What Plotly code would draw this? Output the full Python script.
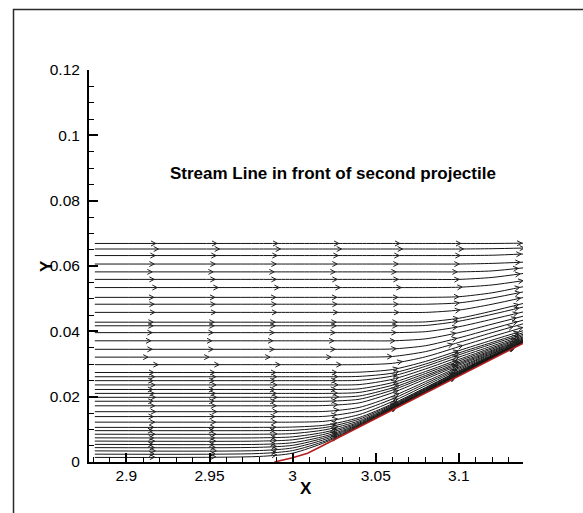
import numpy as np
import plotly.graph_objects as go

# x stations at which every streamline height is tabulated
STATION_X = [2.881, 2.98, 3.00, 3.02, 3.04, 3.06, 3.08, 3.10, 3.12, 3.14]

# streamline heights (Y) at STATION_X, top streamline first
STREAMLINE_Y = [
    [0.0669, 0.0669, 0.0669, 0.0669, 0.0669, 0.0669, 0.0669, 0.0669, 0.0669, 0.0670],
    [0.0652, 0.0652, 0.0652, 0.0652, 0.0652, 0.0652, 0.0652, 0.0652, 0.0653, 0.0655],
    [0.0632, 0.0632, 0.0632, 0.0632, 0.0632, 0.0632, 0.0632, 0.0632, 0.0633, 0.0637],
    [0.0606, 0.0606, 0.0606, 0.0606, 0.0606, 0.0606, 0.0606, 0.0606, 0.0608, 0.0612],
    [0.0582, 0.0582, 0.0582, 0.0582, 0.0582, 0.0582, 0.0582, 0.0582, 0.0585, 0.0595],
    [0.0559, 0.0559, 0.0559, 0.0559, 0.0559, 0.0559, 0.0559, 0.0559, 0.0565, 0.0578],
    [0.0534, 0.0534, 0.0534, 0.0534, 0.0534, 0.0534, 0.0534, 0.0535, 0.0542, 0.0556],
    [0.0504, 0.0504, 0.0504, 0.0504, 0.0504, 0.0504, 0.0504, 0.0506, 0.0518, 0.0538],
    [0.0483, 0.0483, 0.0483, 0.0483, 0.0483, 0.0483, 0.0483, 0.0487, 0.0502, 0.0522],
    [0.0458, 0.0458, 0.0458, 0.0458, 0.0458, 0.0458, 0.0458, 0.0465, 0.0483, 0.0505],
    [0.0428, 0.0428, 0.0428, 0.0428, 0.0428, 0.0428, 0.0429, 0.0440, 0.0462, 0.0487],
    [0.0417, 0.0417, 0.0417, 0.0417, 0.0417, 0.0417, 0.0418, 0.0431, 0.0452, 0.0476],
    [0.0396, 0.0396, 0.0396, 0.0396, 0.0396, 0.0396, 0.0399, 0.0414, 0.0437, 0.0461],
    [0.0371, 0.0371, 0.0371, 0.0371, 0.0371, 0.0371, 0.0377, 0.0396, 0.0422, 0.0448],
    [0.0345, 0.0345, 0.0345, 0.0345, 0.0345, 0.0346, 0.0356, 0.0380, 0.0408, 0.0436],
    [0.0321, 0.0321, 0.0321, 0.0321, 0.0321, 0.0323, 0.0338, 0.0366, 0.0396, 0.0425],
    [0.0298, 0.0298, 0.0298, 0.0298, 0.0298, 0.0302, 0.0322, 0.0353, 0.0384, 0.0414],
    [0.0274, 0.0274, 0.0274, 0.0274, 0.0275, 0.0283, 0.0308, 0.0341, 0.0373, 0.0404],
    [0.0261, 0.0261, 0.0261, 0.0261, 0.0262, 0.0272, 0.0300, 0.0334, 0.0366, 0.0398],
    [0.0249, 0.0249, 0.0249, 0.0249, 0.0250, 0.0263, 0.0293, 0.0328, 0.0361, 0.0393],
    [0.0236, 0.0236, 0.0236, 0.0236, 0.0237, 0.0253, 0.0285, 0.0321, 0.0355, 0.0389],
    [0.0222, 0.0222, 0.0222, 0.0222, 0.0224, 0.0243, 0.0277, 0.0314, 0.0350, 0.0385],
    [0.0210, 0.0210, 0.0210, 0.0210, 0.0213, 0.0235, 0.0271, 0.0309, 0.0346, 0.0382],
    [0.0198, 0.0198, 0.0198, 0.0198, 0.0202, 0.0227, 0.0265, 0.0304, 0.0342, 0.0379],
    [0.0186, 0.0186, 0.0186, 0.0186, 0.0192, 0.0220, 0.0260, 0.0300, 0.0339, 0.0377],
    [0.0172, 0.0172, 0.0172, 0.0173, 0.0181, 0.0212, 0.0254, 0.0296, 0.0336, 0.0375],
    [0.0154, 0.0154, 0.0154, 0.0155, 0.0167, 0.0201, 0.0246, 0.0291, 0.0333, 0.0373],
    [0.0139, 0.0139, 0.0139, 0.0140, 0.0156, 0.0193, 0.0240, 0.0287, 0.0331, 0.0372],
    [0.0122, 0.0122, 0.0122, 0.0125, 0.0145, 0.0185, 0.0234, 0.0283, 0.0328, 0.0371],
    [0.0106, 0.0106, 0.0107, 0.0113, 0.0136, 0.0178, 0.0228, 0.0279, 0.0326, 0.0370],
    [0.0096, 0.0096, 0.0097, 0.0106, 0.0131, 0.0175, 0.0226, 0.0277, 0.0325, 0.0370],
    [0.0085, 0.0085, 0.0087, 0.0099, 0.0126, 0.0172, 0.0224, 0.0275, 0.0324, 0.0369],
    [0.0074, 0.0074, 0.0077, 0.0092, 0.0122, 0.0170, 0.0222, 0.0273, 0.0323, 0.0369],
    [0.0064, 0.0064, 0.0068, 0.0086, 0.0119, 0.0168, 0.0220, 0.0272, 0.0322, 0.0369],
    [0.0054, 0.0054, 0.0059, 0.0080, 0.0116, 0.0166, 0.0218, 0.0270, 0.0321, 0.0368],
    [0.0044, 0.0045, 0.0051, 0.0075, 0.0114, 0.0165, 0.0217, 0.0269, 0.0320, 0.0368],
    [0.0034, 0.0035, 0.0043, 0.0070, 0.0112, 0.0163, 0.0215, 0.0267, 0.0319, 0.0368],
    [0.0024, 0.0026, 0.0035, 0.0065, 0.0110, 0.0162, 0.0214, 0.0266, 0.0318, 0.0368],
    [0.0014, 0.0017, 0.0027, 0.0061, 0.0109, 0.0161, 0.0213, 0.0265, 0.0317, 0.0367],
]

# x of the first arrowhead on each streamline (same order as STREAMLINE_Y)
ARROW_FIRST_X = [
    2.9177, 2.9193, 2.9173, 2.9167, 2.9155, 2.9167, 2.9185, 2.9165, 2.9167, 2.9171,
    2.9161, 2.9161, 2.9155, 2.9147, 2.9155, 2.9130, 2.9191, 2.9165, 2.9170, 2.9160,
    2.9172, 2.9158, 2.9168, 2.9175, 2.9160, 2.9170, 2.9176, 2.9162, 2.9170, 2.9165,
    2.9158, 2.9172, 2.9163, 2.9170, 2.9160, 2.9168, 2.9174, 2.9166, 2.9170,
]
ARROW_SPACING = 0.0367   # arc length between arrowheads, in data units

# projectile nose / cone surface
CONE_X = [2.989, 3.000, 3.009, 3.015, 3.14]
CONE_Y = [0.0, 0.0013, 0.0027, 0.0042, 0.0367]

X_RANGE = [2.8775, 3.1386]
Y_RANGE = [0.0, 0.12]

W, H = 583, 513
ML, MR, MT, MB = 89, 60, 70, 51
PW, PH = W - ML - MR, H - MT - MB
SX = PW / (X_RANGE[1] - X_RANGE[0])   # px per x unit
SY = PH / (Y_RANGE[1] - Y_RANGE[0])   # px per y unit

FONT = "Liberation Sans, Arial, sans-serif"

fig = go.Figure()

# streamlines
for row in STREAMLINE_Y:
    fig.add_trace(go.Scatter(
        x=STATION_X, y=row, mode="lines",
        line=dict(color="#151515", width=1, shape="spline", smoothing=0.7),
        hoverinfo="skip", showlegend=False))

# arrowheads placed along each streamline at equal arc-length steps
ax, ay = [], []
for row, x_first in zip(STREAMLINE_Y, ARROW_FIRST_X):
    px = np.array(STATION_X)
    py = np.array(row)
    seg = np.hypot(np.diff(px), np.diff(py))
    s_cum = np.concatenate([[0.0], np.cumsum(seg)])
    s = x_first - px[0]
    while s < s_cum[-1] - 1e-4:
        i = min(np.searchsorted(s_cum, s, side="right") - 1, len(seg) - 1)
        t = (s - s_cum[i]) / seg[i]
        xt = px[i] + t * (px[i + 1] - px[i])
        yt = py[i] + t * (py[i + 1] - py[i])
        # direction in screen pixels
        dx = (px[i + 1] - px[i]) * SX
        dy = (py[i + 1] - py[i]) * SY
        n = np.hypot(dx, dy)
        ux, uy = dx / n, dy / n
        vx, vy = -uy, ux
        L, Wd = 4.8, 2.5
        for sgn in (1, -1):
            bx = -L * ux + sgn * Wd * vx
            by = -L * uy + sgn * Wd * vy
            ax += [xt + bx / SX, xt, None]
            ay += [yt + by / SY, yt, None]
        s += ARROW_SPACING

fig.add_trace(go.Scatter(
    x=ax, y=ay, mode="lines",
    line=dict(color="#202020", width=1),
    hoverinfo="skip", showlegend=False))

# cone surface
fig.add_trace(go.Scatter(
    x=CONE_X, y=CONE_Y, mode="lines",
    line=dict(color="#b01e1e", width=1.6),
    hoverinfo="skip", showlegend=False))

axis_common = dict(
    showline=True, linecolor="black", linewidth=2,
    ticks="inside", ticklen=9, tickwidth=1.5, tickcolor="black",
    showgrid=False, zeroline=False,
    tickfont=dict(family=FONT, size=15.5, color="black"),
)

fig.update_xaxes(
    range=X_RANGE, tickmode="linear", tick0=2.9, dtick=0.05,
    minor=dict(ticks="inside", ticklen=5, tickwidth=1.2, tickcolor="black",
               tick0=2.9, dtick=0.01, showgrid=False),
    ticklabelstandoff=-2,
    **axis_common)
fig.update_yaxes(
    range=Y_RANGE, tickmode="linear", tick0=0, dtick=0.02,
    minor=dict(ticks="inside", ticklen=5, tickwidth=1.2, tickcolor="black",
               tick0=0, dtick=0.005, showgrid=False),
    ticklabelstandoff=4,
    **axis_common)


def paper_x(p):
    return (p - ML) / PW


def paper_y(p):
    return (H - MB - p) / PH


annotations = [
    dict(text="<b>Stream Line in front of second projectile</b>",
         x=3.024, y=0.0882, xref="x", yref="y", showarrow=False,
         xanchor="center", yanchor="middle",
         font=dict(family=FONT, size=17, color="black")),
    dict(text="<b>X</b>", x=paper_x(305.5), y=paper_y(489), xref="paper", yref="paper",
         showarrow=False, xanchor="center", yanchor="middle",
         font=dict(family=FONT, size=17, color="black")),
    dict(text="<b>Y</b>", x=paper_x(46), y=paper_y(266), xref="paper", yref="paper",
         showarrow=False, textangle=-90, xanchor="center", yanchor="middle",
         font=dict(family=FONT, size=17, color="black")),
]

# outer frame around the page
shapes = [dict(type="rect", xref="paper", yref="paper",
               x0=paper_x(13.5), x1=paper_x(W + 10),
               y0=paper_y(H + 10), y1=paper_y(9.5),
               line=dict(color="#2a2a2a", width=1.5), layer="below")]

fig.update_layout(
    width=W, height=H,
    margin=dict(l=ML, r=MR, t=MT, b=MB),
    paper_bgcolor="white", plot_bgcolor="white",
    showlegend=False,
    annotations=annotations,
    shapes=shapes,
    font=dict(family=FONT),
)

fig.write_html("out.html")
